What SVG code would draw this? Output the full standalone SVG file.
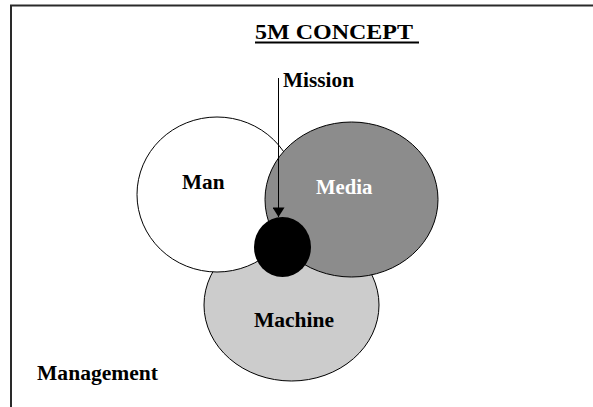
<svg xmlns="http://www.w3.org/2000/svg" width="593" height="407" viewBox="0 0 593 407">
  <style>
    .lbl { font-family: "Liberation Serif", "Times New Roman", serif; font-weight: bold; font-size: 20px; fill: #000; }
    .shape { stroke: #000; stroke-width: 1; }
  </style>
  <defs>
    <marker id="arrowhead" markerWidth="15" markerHeight="12" refX="12" refY="7.5" orient="auto" markerUnits="userSpaceOnUse" viewBox="0 0 12 15">
      <path d="M0,0 L12,7.5 L0,15 Z" fill="#000"/>
    </marker>
  </defs>
  <rect width="593" height="407" fill="#fff"/>
  <!-- frame: top and left edges only -->
  <path d="M11,407 L11,5.5 L593,5.5" fill="none" stroke="#2a2a2a" stroke-width="2"/>

  <g id="title">
    <text class="lbl" x="255" y="39" style="font-size:22px" textLength="158" lengthAdjust="spacingAndGlyphs">5M CONCEPT</text>
    <line x1="255" y1="42.5" x2="419" y2="42.5" stroke="#000" stroke-width="2"/>
  </g>

  <g id="machine">
    <ellipse class="shape" cx="291.5" cy="305" rx="87.5" ry="76" fill="#cccccc"/>
    <text class="lbl" x="254" y="327" textLength="80" lengthAdjust="spacingAndGlyphs">Machine</text>
  </g>
  <g id="man">
    <ellipse class="shape" cx="217" cy="194.5" rx="80" ry="77.5" fill="#ffffff"/>
    <text class="lbl" x="182" y="189" textLength="42.5" lengthAdjust="spacingAndGlyphs">Man</text>
  </g>
  <g id="media">
    <ellipse class="shape" cx="351.5" cy="199.5" rx="86.5" ry="77.5" fill="#8c8c8c"/>
    <text class="lbl" x="316" y="194" textLength="56.5" lengthAdjust="spacingAndGlyphs" style="fill:#ffffff">Media</text>
  </g>
  <g id="core">
    <ellipse cx="282.5" cy="247" rx="28.5" ry="30" fill="#000"/>
  </g>
  <g id="mission">
    <text class="lbl" x="283" y="87" textLength="71" lengthAdjust="spacingAndGlyphs">Mission</text>
  </g>
  <g id="management">
    <text class="lbl" x="37" y="380" textLength="121" lengthAdjust="spacingAndGlyphs">Management</text>
  </g>

  <g id="connectors">
    <line x1="278.5" y1="78" x2="278.5" y2="217" stroke="#000" stroke-width="1" marker-end="url(#arrowhead)"/>
  </g>
</svg>
